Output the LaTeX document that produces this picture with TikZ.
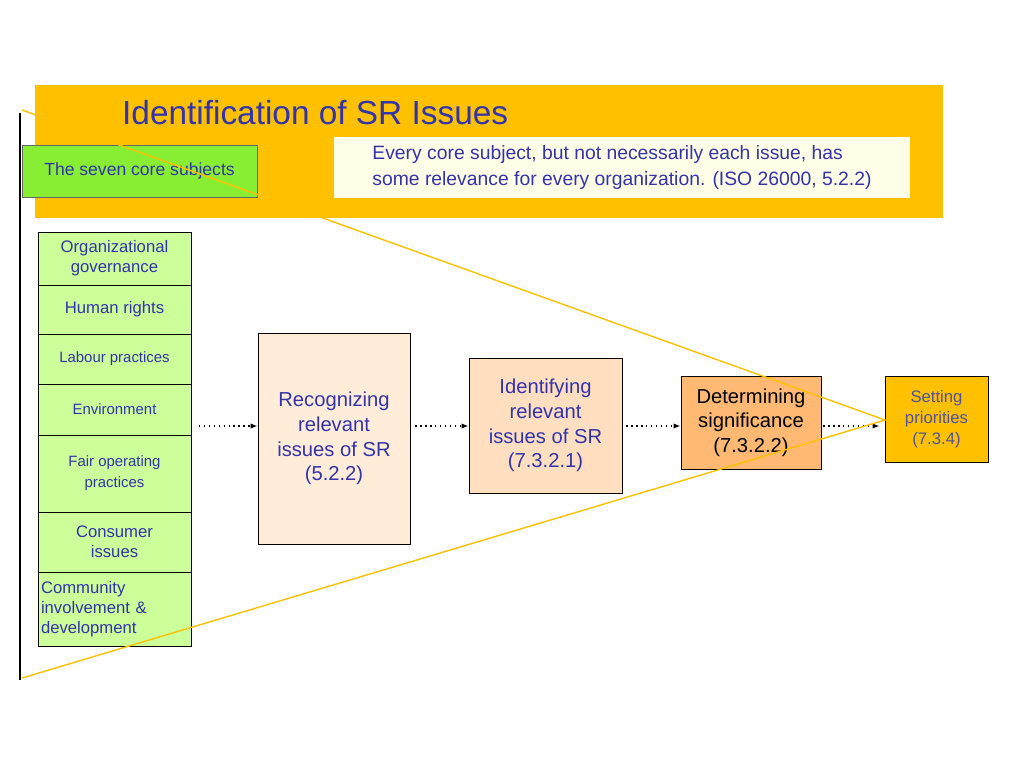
\documentclass[tikz,border=0pt]{standalone}
\usepackage{fontspec}
\setmainfont{Liberation Sans}
\usetikzlibrary{positioning, arrows.meta}
\definecolor{txtblue}{HTML}{3333AA}
\definecolor{banner}{HTML}{FFC000}
\definecolor{lgreen}{HTML}{CCFF99}
\definecolor{dgreen}{HTML}{88EE33}
\tikzset{
  box/.style={draw=black, thin, align=center, text=txtblue, inner sep=1pt},
  subj/.style={box, fill=lgreen, minimum width=153*0.02cm, font=\fontsize{9.5}{11.5}\selectfont},
  stage/.style={box, font=\fontsize{11.5}{14}\selectfont},
  flow/.style={-{Latex[length=4pt]}, dotted, thick},
  cone/.style={draw=banner, thick}
}
\begin{document}
\begin{tikzpicture}[x=0.02cm, y=-0.02cm]
   \useasboundingbox (0,0) rectangle (1024,768);
   \fill[banner] (35,85) rectangle (943,218);
   \node[anchor=west, text=txtblue, font=\fontsize{19}{22}\selectfont] (title) at (116,113) {Identification of SR Issues};
   \node[box, fill=dgreen, draw=black!60, minimum width=235*0.02cm, minimum height=52*0.02cm, font=\fontsize{10}{12}\selectfont] (seven) at (139.5,171) {The seven core subjects};
   \node[fill=yellow!10, align=left, text=txtblue, minimum width=576*0.02cm, minimum height=61*0.02cm, font=\fontsize{11}{15}\selectfont] (quote) at (622,167.5) {Every core subject, but not necessarily each issue, has\\some relevance for every organization. (ISO 26000, 5.2.2)};
   % core subjects
   \node[subj, minimum height=53*0.02cm] (s1) at (114.5,258.5) {Organizational\\governance};
   \node[subj, minimum height=49*0.02cm] (s2) at (114.5,309.5) {Human rights};
   \node[subj, minimum height=50*0.02cm, font=\fontsize{8.5}{10}\selectfont] (s3) at (114.5,359) {Labour practices};
   \node[subj, minimum height=51*0.02cm, font=\fontsize{8.5}{10}\selectfont] (s4) at (114.5,409.5) {Environment};
   \node[subj, minimum height=77*0.02cm, font=\fontsize{8.5}{12}\selectfont] (s5) at (114.5,473.5) {Fair operating\\practices};
   \node[subj, minimum height=60*0.02cm] (s6) at (114.5,542) {Consumer\\issues};
   \node[subj, minimum height=74*0.02cm, align=left, text width=147*0.02cm] (s7) at (114.5,609) {Community\\involvement \&\\development};
   % stages
   \node[stage, fill=orange!15, minimum width=152*0.02cm, minimum height=211*0.02cm] (recog) at (334,438.5) {Recognizing\\relevant\\issues of SR\\(5.2.2)};
   \node[stage, fill=orange!25, minimum width=153*0.02cm, minimum height=135*0.02cm] (ident) at (545.5,425.5) {Identifying\\relevant\\issues of SR\\(7.3.2.1)};
   \node[stage, fill=orange!55, text=black, minimum width=140*0.02cm, minimum height=93*0.02cm] (determ) at (751,422.5) {Determining\\significance\\(7.3.2.2)};
   \node[stage, fill=banner, text=txtblue!60!gray, minimum width=103*0.02cm, minimum height=86*0.02cm, font=\fontsize{9.5}{12}\selectfont] (prio) at (936.5,419) {Setting\\priorities\\(7.3.4)};
   \coordinate (a0) at (199,426);
   \draw[flow] (a0) -- (recog.west |- a0);
   \draw[flow] (recog.east |- a0) ++(5,0) -- (ident.west |- a0);
   \draw[flow] (ident.east |- a0) ++(4,0) -- (determ.west |- a0);
   \draw[flow] (determ.east |- a0) ++(2,0) -- ([xshift=-5*0.02cm]prio.west |- a0);
   % cone
   \coordinate (top) at (22,110);
   \coordinate (bot) at (22,678);
   \coordinate (tip) at (885,420);
   \draw[very thick] (20,113) -- (20,680);
   \draw[cone] (top) -- (tip) -- (bot);
\end{tikzpicture}
\end{document}
